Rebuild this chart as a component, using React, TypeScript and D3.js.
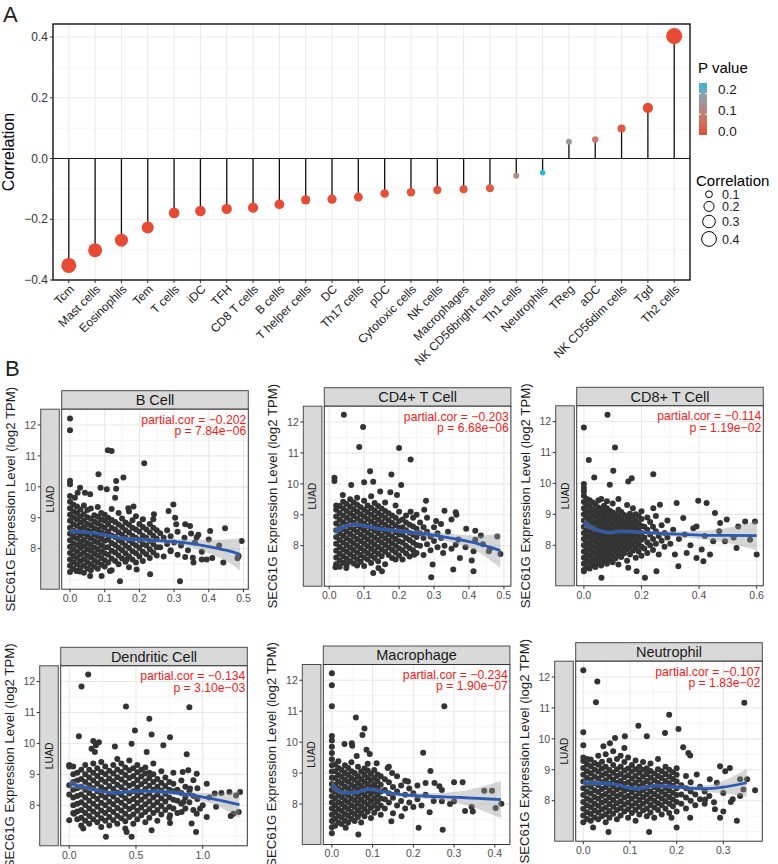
import React from 'react';
import * as d3 from 'd3';

const FONT = '"Liberation Sans", Arial, Helvetica, sans-serif';

// ---- Panel A: immune infiltration correlation (lollipop) ----
const cellTypes = [
  'Tcm', 'Mast cells', 'Eosinophils', 'Tem', 'T cells', 'iDC', 'TFH', 'CD8 T cells',
  'B cells', 'T helper cells', 'DC', 'Th17 cells', 'pDC', 'Cytotoxic cells', 'NK cells',
  'Macrophages', 'NK CD56bright cells', 'Th1 cells', 'Neutrophils', 'TReg', 'aDC',
  'NK CD56dim cells', 'Tgd', 'Th2 cells',
];
const correlations = [
  -0.352, -0.302, -0.269, -0.227, -0.179, -0.173, -0.166, -0.162,
  -0.151, -0.136, -0.134, -0.127, -0.115, -0.111, -0.104,
  -0.101, -0.098, -0.057, -0.047, 0.055, 0.063,
  0.099, 0.167, 0.403,
];
const pValues = [
  0, 0, 0, 0, 0, 0, 0, 0.001,
  0.001, 0.002, 0.003, 0.004, 0.008, 0.01, 0.015,
  0.018, 0.022, 0.13, 0.25, 0.165, 0.085,
  0.02, 0, 0,
];
const corTicks = [-0.4, -0.2, 0, 0.2, 0.4];
const corMinor = [-0.3, -0.1, 0.1, 0.3];
const pLegendTicks = [0, 0.1, 0.2];
const sizeLegendVals = [0.1, 0.2, 0.3, 0.4];

// ---- Panel B: scatter data, [x, [y...]] columns plus scattered points ----
const bCellCols: [number, number[]][] = [
  [0.0, [7.25, 7.45, 7.65, 7.86, 8.06, 8.27, 8.48, 8.68, 8.9, 9.1, 9.31, 9.52, 9.7]],
  [0.01, [7.35, 7.56, 7.76, 7.97, 8.17, 8.38, 8.58, 8.79, 9.0, 9.2, 9.42]],
  [0.02, [7.28, 7.5, 7.7, 7.9, 8.12, 8.33, 8.53, 8.74, 8.95, 9.15, 9.36]],
  [0.03, [7.4, 7.6, 7.81, 8.02, 8.22, 8.43, 8.64, 8.85, 9.05, 9.27]],
  [0.04, [7.22, 7.45, 7.66, 7.87, 8.08, 8.28, 8.49, 8.7, 8.9, 9.11, 9.4]],
  [0.05, [7.36, 7.57, 7.77, 7.98, 8.18, 8.39, 8.6, 8.8, 9.02, 9.25]],
  [0.06, [7.3, 7.5, 7.72, 7.93, 8.13, 8.34, 8.55, 8.76, 8.97, 9.3]],
  [0.07, [7.42, 7.63, 7.84, 8.04, 8.25, 8.46, 8.66, 8.87, 9.08]],
  [0.08, [7.35, 7.56, 7.78, 7.98, 8.2, 8.4, 8.61, 8.82, 9.03, 9.35]],
  [0.09, [7.48, 7.7, 7.9, 8.11, 8.32, 8.52, 8.73, 8.94, 9.15]],
  [0.1, [7.42, 7.63, 7.85, 8.05, 8.26, 8.47, 8.68, 8.9, 9.1]],
  [0.11, [7.55, 7.8, 8.05, 8.3, 8.55, 8.8, 9.0]],
  [0.12, [7.3, 7.68, 7.93, 8.18, 8.43, 8.68, 8.93, 9.28]],
  [0.13, [7.6, 7.88, 8.12, 8.38, 8.62, 8.86]],
  [0.14, [7.5, 7.78, 8.03, 8.28, 8.53, 8.78, 9.15]],
  [0.15, [7.68, 7.95, 8.2, 8.45, 8.7, 8.98]],
  [0.16, [7.58, 7.85, 8.1, 8.35, 8.6, 8.85]],
  [0.17, [7.4, 7.75, 8.02, 8.27, 8.52, 8.77, 9.2]],
  [0.18, [7.65, 7.92, 8.18, 8.42, 8.68, 8.92]],
  [0.19, [7.55, 7.85, 8.1, 8.35, 8.62, 9.05]],
  [0.2, [7.75, 8.02, 8.28, 8.55, 8.8]],
  [0.21, [7.6, 7.9, 8.15, 8.42, 8.7, 8.95]],
  [0.22, [7.82, 8.1, 8.35, 8.62]],
  [0.23, [7.7, 7.98, 8.25, 8.52, 8.8]],
  [0.24, [7.88, 8.15, 8.42, 8.68]],
  [0.25, [7.78, 8.05, 8.32, 8.6]],
  [0.26, [8.05, 8.5]],
  [0.27, [7.75, 8.35]],
  [0.28, [8.15, 8.6]],
  [0.29, [7.95, 8.4]],
  [0.3, [8.2]],
  [0.31, [7.8, 8.55]],
  [0.32, [8.1]],
  [0.33, [8.35]],
  [0.34, [7.95]],
  [0.36, [8.2]],
  [0.37, [8.45]],
  [0.38, [7.9]],
  [0.4, [8.3]],
  [0.41, [7.7]],
  [0.43, [8.1]],
];
const bCellOut: [number, number][] = [
  [0, 12.21], [0, 11.83], [0.109, 11.18], [0.12, 11.16], [0.214, 10.76], [0.082, 10.41],
  [0.154, 10.3], [0.133, 10.19], [0, 10.2], [0, 10.08], [0.029, 9.97], [0.022, 9.81],
  [0.088, 9.97], [0.106, 9.92], [0.133, 9.94], [0.043, 9.81], [0.058, 9.76], [0.014, 9.65],
  [0.13, 9.65], [0.298, 9.43], [0.183, 9.36], [0.168, 9.31], [0.242, 9.11], [0.24, 8.95],
  [0.284, 9.22], [0.303, 9.0], [0.306, 8.79], [0.332, 8.79], [0.346, 8.73], [0.349, 8.49],
  [0.365, 8.36], [0.404, 8.57], [0.447, 8.66], [0.495, 8.25], [0.486, 7.76], [0.483, 7.69],
  [0.442, 7.55], [0.394, 7.65], [0.38, 7.65], [0.356, 7.55], [0.354, 7.71], [0.332, 7.73],
  [0.29, 7.92], [0.231, 7.17], [0.317, 6.95], [0.144, 6.95], [0.192, 7.33], [0.163, 7.65],
  [0.115, 7.28], [0.058, 7.12], [0.091, 7.12], [0.029, 7.26], [0.019, 7.28],
];
// smooth: [x, fit, half-width of band]
const bCellSmooth: [number, number, number][] = [
  [0, 8.57, 0.08], [0.05, 8.53, 0.05], [0.1, 8.45, 0.06], [0.16, 8.32, 0.07], [0.2, 8.29, 0.07],
  [0.26, 8.25, 0.08], [0.3, 8.23, 0.09], [0.34, 8.18, 0.12], [0.4, 8.07, 0.22], [0.45, 7.95, 0.35],
  [0.49, 7.82, 0.52],
];

const cd4Cols: [number, number[]][] = [
  [0.02, [7.4, 7.62, 7.84, 8.06, 8.28, 8.5, 8.72, 8.94, 9.16, 9.3]],
  [0.03, [7.32, 7.52, 7.74, 7.96, 8.18, 8.4, 8.62, 8.84, 9.06, 9.28]],
  [0.04, [7.45, 7.66, 7.88, 8.1, 8.32, 8.54, 8.76, 8.98, 9.2, 9.42]],
  [0.05, [7.38, 7.58, 7.8, 8.02, 8.24, 8.46, 8.68, 8.9, 9.12, 9.35]],
  [0.06, [7.5, 7.72, 7.94, 8.16, 8.38, 8.6, 8.82, 9.04, 9.26, 9.5]],
  [0.07, [7.42, 7.64, 7.86, 8.08, 8.3, 8.52, 8.74, 8.96, 9.18, 9.4]],
  [0.08, [7.36, 7.56, 7.78, 8.0, 8.22, 8.44, 8.66, 8.88, 9.1, 9.32, 9.55]],
  [0.09, [7.48, 7.7, 7.92, 8.14, 8.36, 8.58, 8.8, 9.02, 9.24]],
  [0.1, [7.34, 7.62, 7.84, 8.06, 8.28, 8.5, 8.72, 8.94, 9.16, 9.45]],
  [0.11, [7.55, 7.76, 7.98, 8.2, 8.42, 8.64, 8.86, 9.08, 9.3]],
  [0.12, [7.44, 7.68, 7.9, 8.12, 8.34, 8.56, 8.78, 9.0, 9.22, 9.6]],
  [0.13, [7.6, 7.82, 8.04, 8.26, 8.48, 8.7, 8.92, 9.14, 9.38]],
  [0.14, [7.5, 7.74, 7.96, 8.18, 8.4, 8.62, 8.84, 9.06, 9.28]],
  [0.15, [7.66, 7.88, 8.1, 8.32, 8.54, 8.76, 8.98, 9.2]],
  [0.16, [7.4, 7.8, 8.02, 8.24, 8.46, 8.68, 8.9, 9.12, 9.4]],
  [0.17, [7.7, 7.94, 8.16, 8.38, 8.6, 8.82, 9.05]],
  [0.18, [7.6, 7.86, 8.08, 8.3, 8.52, 8.74, 8.98]],
  [0.19, [7.78, 8.0, 8.22, 8.44, 8.66, 8.9, 9.3]],
  [0.2, [7.68, 7.92, 8.14, 8.36, 8.58, 8.8, 9.1]],
  [0.21, [7.55, 7.85, 8.1, 8.35, 8.6, 8.85]],
  [0.22, [7.75, 8.0, 8.25, 8.5, 8.75, 8.98]],
  [0.23, [7.65, 7.92, 8.18, 8.42, 8.68]],
  [0.24, [7.85, 8.1, 8.35, 8.62, 8.9]],
  [0.25, [7.76, 8.02, 8.28, 8.55, 9.0]],
  [0.26, [8.0, 8.4, 8.75]],
  [0.27, [7.7, 8.25, 8.6]],
  [0.28, [8.05, 8.45, 8.9]],
  [0.29, [7.85, 8.3]],
  [0.3, [8.15, 8.6]],
  [0.31, [7.95, 8.4]],
  [0.32, [8.25, 8.7]],
  [0.33, [8.0]],
  [0.34, [8.45]],
  [0.35, [7.9, 8.85]],
  [0.37, [8.2]],
  [0.39, [7.95]],
  [0.44, [8.05]],
  [0.46, [7.9]],
];
const cd4Out: [number, number][] = [
  [0.042, 12.23], [0.097, 11.84], [0.086, 11.19], [0.2, 11.16], [0.233, 10.79], [0.117, 10.41],
  [0.178, 10.3], [0.015, 10.2], [0.015, 10.09], [0.126, 10.07], [0.1, 10.05], [0.206, 9.96],
  [0.063, 9.96], [0.039, 9.64], [0.175, 9.73], [0.194, 9.64], [0.146, 9.75], [0.277, 9.45],
  [0.233, 9.1], [0.272, 9.16], [0.33, 9.13], [0.362, 9.08], [0.364, 9.0], [0.306, 8.8],
  [0.392, 8.55], [0.418, 8.48], [0.434, 8.33], [0.418, 8.19], [0.481, 8.3], [0.49, 7.73],
  [0.457, 7.82], [0.413, 7.82], [0.408, 7.52], [0.413, 7.17], [0.362, 8.03], [0.374, 7.6],
  [0.326, 7.76], [0.355, 7.23], [0.292, 6.98], [0.296, 7.39], [0.243, 7.71], [0.19, 7.55],
  [0.151, 7.17], [0.126, 7.12], [0.141, 7.28], [0.049, 7.28], [0.018, 7.3],
];
const cd4Smooth: [number, number, number][] = [
  [0.015, 8.44, 0.15], [0.04, 8.6, 0.08], [0.07, 8.68, 0.07], [0.1, 8.65, 0.06], [0.13, 8.57, 0.06],
  [0.17, 8.51, 0.06], [0.22, 8.45, 0.07], [0.27, 8.39, 0.09], [0.32, 8.3, 0.12], [0.37, 8.2, 0.16],
  [0.42, 8.08, 0.24], [0.49, 7.84, 0.56],
];

const cd8Cols: [number, number[]][] = [
  [0.0, [7.2, 7.4, 7.6, 7.8, 8.0, 8.2, 8.4, 8.6, 8.8, 9.0, 9.2, 9.4, 9.6, 9.75]],
  [0.01, [7.3, 7.5, 7.7, 7.9, 8.1, 8.3, 8.5, 8.7, 8.9, 9.1, 9.3, 9.5]],
  [0.02, [7.25, 7.46, 7.66, 7.86, 8.06, 8.26, 8.46, 8.66, 8.86, 9.06, 9.26, 9.46]],
  [0.03, [7.36, 7.56, 7.76, 7.96, 8.16, 8.36, 8.56, 8.76, 8.96, 9.16, 9.38]],
  [0.04, [7.3, 7.52, 7.72, 7.92, 8.12, 8.32, 8.52, 8.72, 8.92, 9.12, 9.32]],
  [0.05, [7.42, 7.62, 7.82, 8.02, 8.22, 8.42, 8.62, 8.82, 9.02, 9.22, 9.45]],
  [0.06, [7.35, 7.56, 7.76, 7.96, 8.16, 8.36, 8.56, 8.76, 8.96, 9.16, 9.5]],
  [0.07, [7.48, 7.68, 7.88, 8.08, 8.28, 8.48, 8.68, 8.88, 9.08, 9.28]],
  [0.08, [7.4, 7.6, 7.8, 8.0, 8.2, 8.4, 8.6, 8.8, 9.0, 9.2, 9.42]],
  [0.09, [7.52, 7.72, 7.92, 8.12, 8.32, 8.52, 8.72, 8.92, 9.12]],
  [0.1, [7.45, 7.66, 7.86, 8.06, 8.26, 8.46, 8.66, 8.86, 9.06, 9.35]],
  [0.11, [7.58, 7.8, 8.0, 8.2, 8.4, 8.6, 8.8, 9.0]],
  [0.12, [7.38, 7.7, 7.92, 8.12, 8.32, 8.52, 8.72, 8.92, 9.15, 9.5]],
  [0.13, [7.62, 7.84, 8.04, 8.24, 8.44, 8.64, 8.86, 9.08]],
  [0.14, [7.74, 7.96, 8.16, 8.36, 8.56, 8.76, 8.98]],
  [0.15, [7.5, 7.86, 8.08, 8.28, 8.48, 8.68, 8.9, 9.3]],
  [0.16, [7.7, 7.98, 8.2, 8.4, 8.6, 8.82, 9.02]],
  [0.17, [7.82, 8.06, 8.28, 8.5, 8.72, 8.94, 9.2]],
  [0.18, [7.6, 7.92, 8.14, 8.36, 8.58, 8.8, 9.0]],
  [0.19, [7.8, 8.04, 8.26, 8.48, 8.7, 8.95]],
  [0.2, [7.66, 7.95, 8.18, 8.4, 8.62, 8.85, 9.1]],
  [0.21, [7.9, 8.25, 8.6]],
  [0.22, [7.75, 8.1, 8.5, 8.9]],
  [0.23, [8.0, 8.35, 8.75]],
  [0.24, [7.85, 8.2, 8.6]],
  [0.25, [8.05, 8.45, 8.95]],
  [0.26, [7.7, 8.3]],
  [0.27, [8.15, 8.65]],
  [0.28, [7.95, 8.4]],
  [0.29, [8.25, 8.8]],
  [0.3, [8.05]],
  [0.31, [8.5]],
  [0.33, [8.2]],
  [0.35, [8.35]],
  [0.37, [8.0]],
  [0.38, [8.55]],
  [0.42, [8.3]],
  [0.47, [8.45]],
  [0.52, [8.25]],
];
const cd8Out: [number, number][] = [
  [0, 11.81], [0.082, 12.22], [0.108, 11.16], [0.017, 10.76], [0.102, 10.41], [0.036, 10.19],
  [0.241, 10.3], [0.166, 10.17], [0.154, 10.06], [0.09, 9.96], [0, 9.98], [0, 9.85],
  [0.397, 9.44], [0.426, 9.37], [0.322, 9.37], [0.264, 9.31], [0.241, 9.2], [0.455, 9.04],
  [0.496, 8.83], [0.345, 8.88], [0.391, 8.61], [0.473, 8.72], [0.56, 8.77], [0.536, 8.61],
  [0.594, 8.77], [0.577, 8.18], [0.53, 7.91], [0.6, 7.7], [0.49, 8.13], [0.449, 8.13],
  [0.409, 7.86], [0.438, 7.7], [0.391, 7.59], [0.415, 7.48], [0.357, 7.75], [0.316, 7.7],
  [0.328, 7.32], [0.252, 7.16], [0.212, 6.95], [0.154, 7.27], [0.183, 7.16], [0.061, 6.95],
  [0, 7.16],
];
const cd8Smooth: [number, number, number][] = [
  [0, 8.72, 0.15], [0.03, 8.56, 0.08], [0.06, 8.46, 0.06], [0.09, 8.41, 0.06], [0.125, 8.45, 0.06],
  [0.2, 8.42, 0.06], [0.3, 8.37, 0.08], [0.4, 8.33, 0.13], [0.5, 8.32, 0.25], [0.6, 8.31, 0.48],
];

const dcCols: [number, number[]][] = [
  [0.0, [8.35, 8.65, 9.25]],
  [0.03, [7.75, 8.0, 8.25, 8.5, 8.75, 9.0, 9.25]],
  [0.06, [7.55, 7.8, 8.05, 8.3, 8.55, 8.8, 9.05]],
  [0.09, [7.35, 7.6, 7.85, 8.1, 8.35, 8.6, 8.85, 9.15]],
  [0.12, [7.5, 7.75, 8.0, 8.25, 8.5, 8.75, 9.0, 9.3]],
  [0.15, [7.4, 7.65, 7.9, 8.15, 8.4, 8.65, 8.9, 9.15]],
  [0.18, [7.55, 7.8, 8.05, 8.3, 8.55, 8.8, 9.05, 9.35]],
  [0.21, [7.45, 7.7, 7.95, 8.2, 8.45, 8.7, 8.95, 9.2]],
  [0.24, [7.3, 7.58, 7.83, 8.08, 8.33, 8.58, 8.83, 9.08, 9.4]],
  [0.27, [7.5, 7.75, 8.0, 8.25, 8.5, 8.75, 9.0, 9.25]],
  [0.3, [7.35, 7.62, 7.87, 8.12, 8.37, 8.62, 8.87, 9.12]],
  [0.33, [7.52, 7.78, 8.03, 8.28, 8.53, 8.78, 9.03, 9.3]],
  [0.36, [7.4, 7.66, 7.91, 8.16, 8.41, 8.66, 8.91, 9.16, 9.5]],
  [0.39, [7.58, 7.83, 8.08, 8.33, 8.58, 8.83, 9.08, 9.35]],
  [0.42, [7.25, 7.48, 7.73, 7.98, 8.23, 8.48, 8.73, 8.98, 9.22]],
  [0.45, [7.62, 7.88, 8.13, 8.38, 8.63, 8.88, 9.13, 9.45]],
  [0.48, [7.4, 7.7, 7.95, 8.2, 8.45, 8.7, 8.95, 9.2]],
  [0.51, [7.55, 7.82, 8.07, 8.32, 8.57, 8.82, 9.07, 9.3]],
  [0.54, [7.68, 7.93, 8.18, 8.43, 8.68, 8.93, 9.15]],
  [0.57, [7.45, 7.78, 8.03, 8.28, 8.53, 8.78, 9.03, 9.22]],
  [0.6, [7.6, 7.88, 8.13, 8.38, 8.63, 8.88, 9.05]],
  [0.63, [7.75, 8.0, 8.25, 8.5, 8.75, 9.0, 9.35]],
  [0.66, [7.5, 7.85, 8.1, 8.35, 8.6, 8.85]],
  [0.69, [7.7, 7.98, 8.23, 8.48, 8.73, 9.1]],
  [0.72, [7.85, 8.12, 8.37, 8.62, 8.9]],
  [0.75, [7.6, 7.95, 8.25, 8.5, 8.75]],
  [0.78, [7.9, 8.18, 8.45, 8.7, 9.05]],
  [0.81, [7.75, 8.15, 8.5]],
  [0.84, [8.05, 8.4, 8.8]],
  [0.87, [7.9, 8.25, 8.6]],
  [0.9, [8.1, 8.45]],
  [0.93, [7.85, 8.3]],
  [0.96, [8.2, 8.55]],
  [1.0, [8.0]],
  [1.05, [8.25]],
  [1.1, [7.95]],
];
const dcOut: [number, number][] = [
  [0.142, 12.23], [0.092, 11.84], [0.425, 11.19], [0.9, 11.17], [0.6, 10.8], [0.492, 10.42],
  [0.617, 10.29], [0.072, 10.23], [0.755, 10.2], [0.18, 10.08], [0.222, 10.04], [0.2, 9.94],
  [0.467, 9.99], [0.705, 9.94], [0.342, 9.9], [0.58, 9.72], [0.167, 9.83], [0.192, 9.72],
  [0.88, 9.65], [0.892, 9.13], [0.955, 9.02], [0.85, 9.08], [0.93, 8.81], [1.03, 8.7],
  [0.905, 8.54], [1.09, 8.38], [1.14, 8.4], [1.2, 8.43], [1.28, 8.43], [1.25, 8.32],
  [0.98, 7.89], [1.03, 7.62], [0.955, 7.73], [1.23, 7.73], [1.27, 7.78], [1.21, 7.65],
  [0.855, 8.11], [0.842, 7.78], [0.917, 7.41], [0.95, 7.14], [0.755, 7.68], [0.617, 7.19],
  [0.755, 7.43], [0.467, 6.98], [0.43, 7.14], [0.275, 6.98], [0, 7.52], [0.035, 7.73],
  [0.105, 7.25], [0, 9.3],
];
const dcSmooth: [number, number, number][] = [
  [0, 8.7, 0.14], [0.15, 8.55, 0.08], [0.33, 8.4, 0.06], [0.45, 8.44, 0.06], [0.56, 8.46, 0.06],
  [0.73, 8.43, 0.07], [0.93, 8.32, 0.1], [1.13, 8.16, 0.22], [1.275, 8.02, 0.45],
];

const macCols: [number, number[]][] = [
  [0.0, [7.05, 7.25, 7.45, 7.65, 7.85, 8.05, 8.25, 8.45, 8.65, 8.85, 9.05, 9.25, 9.45, 9.65, 9.85, 10.05]],
  [0.008, [7.3, 7.52, 7.74, 7.96, 8.18, 8.4, 8.62, 8.84, 9.06, 9.28]],
  [0.016, [7.4, 7.62, 7.84, 8.06, 8.28, 8.5, 8.72, 8.94, 9.16, 9.38]],
  [0.024, [7.35, 7.56, 7.78, 8.0, 8.22, 8.44, 8.66, 8.88, 9.1]],
  [0.032, [7.46, 7.68, 7.9, 8.12, 8.34, 8.56, 8.78, 9.0, 9.25]],
  [0.04, [7.4, 7.62, 7.84, 8.06, 8.28, 8.5, 8.72, 8.94, 9.16]],
  [0.048, [7.52, 7.74, 7.96, 8.18, 8.4, 8.62, 8.84, 9.06, 9.35]],
  [0.056, [7.45, 7.68, 7.9, 8.12, 8.34, 8.56, 8.78, 9.0]],
  [0.064, [7.58, 7.8, 8.02, 8.24, 8.46, 8.68, 8.9, 9.2]],
  [0.072, [7.4, 7.7, 7.92, 8.14, 8.36, 8.58, 8.8, 9.05]],
  [0.08, [7.6, 7.84, 8.06, 8.28, 8.5, 8.72, 8.94, 9.15]],
  [0.088, [7.75, 7.98, 8.2, 8.42, 8.64, 8.86, 9.08, 9.3]],
  [0.096, [7.55, 7.88, 8.1, 8.32, 8.54, 8.76, 8.98]],
  [0.104, [7.72, 7.96, 8.18, 8.4, 8.62, 8.84, 9.1]],
  [0.112, [7.85, 8.08, 8.3, 8.52, 8.74, 8.95]],
  [0.12, [7.65, 7.95, 8.18, 8.4, 8.62, 8.9]],
  [0.13, [7.85, 8.15, 8.45, 8.8]],
  [0.14, [8.05, 8.35, 8.7, 9.2]],
  [0.15, [7.7, 8.2, 8.55]],
  [0.16, [7.95, 8.4, 8.9]],
  [0.17, [8.1, 8.6]],
  [0.18, [7.85, 8.3, 8.75]],
  [0.19, [8.05, 8.5]],
  [0.2, [7.9, 8.35]],
  [0.21, [8.15, 8.6]],
  [0.22, [7.95]],
  [0.23, [8.3]],
  [0.25, [8.1]],
  [0.27, [8.45]],
  [0.29, [8.0]],
];
const macOut: [number, number][] = [
  [0, 12.23], [0, 11.84], [0, 11.16], [0.276, 11.16], [0.059, 10.8], [0.08, 10.44],
  [0.075, 10.23], [0, 10.2], [0.031, 9.94], [0.049, 9.96], [0.05, 9.88], [0.061, 9.55],
  [0.085, 9.75], [0.093, 9.62], [0.224, 9.66], [0.11, 9.32], [0.137, 9.16], [0.242, 9.07],
  [0.148, 9.0], [0.187, 8.73], [0.23, 8.68], [0.252, 8.68], [0.264, 8.57], [0.3, 8.7],
  [0.321, 8.7], [0.374, 8.43], [0.393, 8.43], [0.416, 8.01], [0.402, 7.87], [0.343, 7.9],
  [0.346, 7.76], [0.327, 7.77], [0.3, 8.09], [0.27, 8.09], [0.24, 7.73], [0.213, 7.23],
  [0.272, 7.17], [0.171, 7.6], [0.146, 7.44], [0.065, 7.01], [0.034, 7.23],
];
const macSmooth: [number, number, number][] = [
  [0, 8.62, 0.15], [0.028, 8.37, 0.07], [0.057, 8.37, 0.06], [0.09, 8.48, 0.06], [0.122, 8.41, 0.06],
  [0.17, 8.3, 0.07], [0.236, 8.25, 0.1], [0.317, 8.21, 0.2], [0.36, 8.18, 0.35], [0.415, 8.14, 0.6],
];

const neuCols: [number, number[]][] = [
  [0.0, [7.3, 7.52, 7.74, 7.96, 8.18, 8.4, 8.62, 8.84, 9.06, 9.28, 9.4]],
  [0.008, [7.41, 7.63, 7.85, 8.07, 8.29, 8.51, 8.73, 8.95, 9.17, 9.35]],
  [0.016, [7.35, 7.57, 7.79, 8.01, 8.23, 8.45, 8.67, 8.89, 9.11, 9.33]],
  [0.024, [7.46, 7.68, 7.9, 8.12, 8.34, 8.56, 8.78, 9.0, 9.22]],
  [0.032, [7.4, 7.62, 7.84, 8.06, 8.28, 8.5, 8.72, 8.94, 9.16, 9.45]],
  [0.04, [7.5, 7.72, 7.94, 8.16, 8.38, 8.6, 8.82, 9.04, 9.26]],
  [0.048, [7.3, 7.56, 7.78, 8.0, 8.22, 8.44, 8.66, 8.88, 9.1, 9.5]],
  [0.056, [7.45, 7.67, 7.89, 8.11, 8.33, 8.55, 8.77, 8.99, 9.3]],
  [0.064, [7.58, 7.8, 8.02, 8.24, 8.46, 8.68, 8.9, 9.15, 9.6]],
  [0.072, [7.4, 7.7, 7.92, 8.14, 8.36, 8.58, 8.8, 9.02, 9.35]],
  [0.08, [7.52, 7.76, 7.98, 8.2, 8.42, 8.64, 8.86, 9.1, 9.45]],
  [0.088, [7.65, 7.88, 8.1, 8.32, 8.54, 8.76, 8.98, 9.25, 9.7]],
  [0.096, [7.45, 7.72, 7.94, 8.16, 8.38, 8.6, 8.82, 9.04, 9.4]],
  [0.104, [7.6, 7.84, 8.06, 8.28, 8.5, 8.72, 8.94, 9.15]],
  [0.112, [7.35, 7.7, 7.92, 8.14, 8.36, 8.58, 8.8, 9.02, 9.3]],
  [0.12, [7.55, 7.8, 8.02, 8.24, 8.46, 8.68, 8.9, 9.1]],
  [0.128, [7.68, 7.9, 8.12, 8.34, 8.56, 8.78, 9.0, 9.25]],
  [0.136, [7.5, 7.75, 7.98, 8.2, 8.42, 8.64, 8.86, 9.05]],
  [0.144, [7.62, 7.86, 8.08, 8.3, 8.52, 8.74, 8.96, 9.2]],
  [0.152, [7.45, 7.78, 8.0, 8.22, 8.44, 8.66, 8.88]],
  [0.16, [7.7, 7.92, 8.14, 8.36, 8.58, 8.8, 9.02, 9.35]],
  [0.168, [7.55, 7.85, 8.07, 8.29, 8.51, 8.73, 8.95]],
  [0.176, [7.74, 7.98, 8.2, 8.42, 8.64, 8.86, 9.1]],
  [0.184, [7.6, 7.9, 8.12, 8.34, 8.56, 8.78, 9.0]],
  [0.192, [7.82, 8.04, 8.26, 8.48, 8.7, 8.92]],
  [0.2, [7.65, 7.96, 8.18, 8.4, 8.62, 8.84, 9.05]],
  [0.21, [7.9, 8.2, 8.5]],
  [0.22, [7.75, 8.1, 8.4, 8.8]],
  [0.23, [8.0, 8.3, 8.6]],
  [0.24, [7.85, 8.2]],
  [0.25, [8.05, 8.45]],
  [0.26, [7.9, 8.3]],
  [0.27, [8.15]],
  [0.28, [7.95]],
  [0.3, [8.25]],
  [0.32, [8.05]],
];
const neuOut: [number, number][] = [
  [0, 12.22], [0.03, 11.85], [0.027, 11.18], [0.345, 11.17], [0.184, 10.78], [0.118, 10.42],
  [0.204, 10.32], [0, 10.21], [0.175, 10.19], [0.136, 10.08], [0, 9.79], [0.089, 10.08],
  [0.068, 10.03], [0.043, 9.76], [0.057, 9.86], [0.214, 9.73], [0.225, 9.54], [0.229, 9.46],
  [0.293, 9.11], [0.314, 9.06], [0.304, 8.95], [0.243, 8.85], [0.271, 8.69], [0.286, 8.58],
  [0.336, 8.69], [0.351, 8.69], [0.343, 8.36], [0.368, 8.34], [0.336, 8.15], [0.316, 7.96],
  [0.3, 7.65], [0.282, 7.72], [0.329, 7.35], [0.293, 7.45], [0.229, 7.45], [0.261, 8.04],
  [0.2, 7.13], [0.189, 7.45], [0.141, 6.99], [0.054, 6.99], [0.021, 7.13],
];
const neuSmooth: [number, number, number][] = [
  [0, 8.58, 0.1], [0.057, 8.55, 0.06], [0.114, 8.39, 0.06], [0.157, 8.49, 0.06], [0.2, 8.44, 0.07],
  [0.257, 8.39, 0.1], [0.3, 8.44, 0.2], [0.35, 8.58, 0.45],
];

type PanelSpec = {
  title: string; cor: string; p: string; left: number; top: number;
  xDomain: [number, number]; xTicks: number[]; xMinor: number[];
  cols: [number, number[]][]; out: [number, number][]; smooth: [number, number, number][];
};

const PANELS: PanelSpec[] = [
  { title: 'B Cell', cor: '\u22120.202', p: '7.84e\u221206', left: 61.7, top: 390.7,
    xDomain: [-0.024, 0.514], xTicks: [0, 0.1, 0.2, 0.3, 0.4, 0.5], xMinor: [0.05, 0.15, 0.25, 0.35, 0.45],
    cols: bCellCols, out: bCellOut, smooth: bCellSmooth },
  { title: 'CD4+ T Cell', cor: '\u22120.203', p: '6.68e\u221206', left: 324.3, top: 387.7,
    xDomain: [-0.014, 0.52], xTicks: [0, 0.1, 0.2, 0.3, 0.4, 0.5], xMinor: [0.05, 0.15, 0.25, 0.35, 0.45],
    cols: cd4Cols, out: cd4Out, smooth: cd4Smooth },
  { title: 'CD8+ T Cell', cor: '\u22120.114', p: '1.19e\u221202', left: 576.7, top: 387.3,
    xDomain: [-0.025, 0.623], xTicks: [0, 0.2, 0.4, 0.6], xMinor: [0.1, 0.3, 0.5],
    cols: cd8Cols, out: cd8Out, smooth: cd8Smooth },
  { title: 'Dendritic Cell', cor: '\u22120.134', p: '3.10e\u221203', left: 60.7, top: 647.3,
    xDomain: [-0.064, 1.334], xTicks: [0, 0.5, 1.0], xMinor: [0.25, 0.75, 1.25],
    cols: dcCols, out: dcOut, smooth: dcSmooth },
  { title: 'Macrophage', cor: '\u22120.234', p: '1.90e\u221207', left: 323.3, top: 646,
    xDomain: [-0.021, 0.437], xTicks: [0, 0.1, 0.2, 0.3, 0.4], xMinor: [0.05, 0.15, 0.25, 0.35],
    cols: macCols, out: macOut, smooth: macSmooth },
  { title: 'Neutrophil', cor: '\u22120.107', p: '1.83e\u221202', left: 575.7, top: 642.7,
    xDomain: [-0.0163, 0.3835], xTicks: [0, 0.1, 0.2, 0.3], xMinor: [0.05, 0.15, 0.25, 0.35],
    cols: neuCols, out: neuOut, smooth: neuSmooth },
];

const exprMajor = [8, 9, 10, 11, 12];
const exprMinor = [7, 7.5, 8.5, 9.5, 10.5, 11.5];

function LollipopPanel() {
  const left = 53, right = 690, top = 24, bottom = 280;
  const x = d3.scalePoint<string>().domain(cellTypes).range([left, right]).padding(0.6);
  const y = d3.scaleLinear().domain([-0.4, 0.443]).range([bottom, top]);
  const color = d3.scaleLinear<string>().domain([0, 0.25]).range(['#E64B35', '#36B4D8'])
    .interpolate(d3.interpolateLab);
  const size = d3.scaleSqrt().domain([0, 0.4]).range([0, 8]);

  // colorbar geometry
  const cbX = 699, cbW = 8, cbTop = 83, cbBottom = 135;
  const cbY = d3.scaleLinear().domain([0, 0.25]).range([cbBottom, cbTop]);

  // size legend key centres
  let acc = 189;
  const keyY = sizeLegendVals.map(v => {
    const h = 2 * size(v) + 2.5;
    const c = acc + h / 2;
    acc += h;
    return c;
  });

  return (
    <g>
      <text x={3} y={22} fontSize={22} fill="#231F20">A</text>
      <rect x={left} y={top} width={right - left} height={bottom - top} fill="#fff" />
      {corMinor.map(v => (
        <line key={'mi' + v} x1={left} x2={right} y1={y(v)} y2={y(v)} stroke="#F2F2F2" strokeWidth={0.7} />
      ))}
      {corTicks.map(v => (
        <line key={'ma' + v} x1={left} x2={right} y1={y(v)} y2={y(v)} stroke="#EBEBEB" strokeWidth={1.1} />
      ))}
      {cellTypes.map(c => (
        <line key={'v' + c} x1={x(c)} x2={x(c)} y1={top} y2={bottom} stroke="#EBEBEB" strokeWidth={1.1} />
      ))}
      <line x1={left} x2={right} y1={y(0)} y2={y(0)} stroke="#1a1a1a" strokeWidth={1.1} />
      {cellTypes.map((c, i) => (
        <line key={'s' + c} x1={x(c)} x2={x(c)} y1={y(0)} y2={y(correlations[i])} stroke="#111" strokeWidth={1.3} />
      ))}
      {cellTypes.map((c, i) => (
        <circle key={'p' + c} cx={x(c)} cy={y(correlations[i])} r={size(Math.abs(correlations[i]))}
          fill={color(pValues[i])} />
      ))}
      <rect x={left} y={top} width={right - left} height={bottom - top} fill="none" stroke="#000" strokeWidth={1.3} />
      {/* y axis */}
      {corTicks.map(v => (
        <g key={'yt' + v}>
          <line x1={left - 3} x2={left} y1={y(v)} y2={y(v)} stroke="#333" strokeWidth={1} />
          <text x={left - 5} y={y(v) + 4} fontSize={12} textAnchor="end" fill="#333">
            {v === 0 ? '0.0' : d3.format('.1f')(v).replace('-', '\u2212')}
          </text>
        </g>
      ))}
      <text transform={`translate(${14},${(top + bottom) / 2}) rotate(-90)`} fontSize={16}
        textAnchor="middle" fill="#000">Correlation</text>
      {/* x axis */}
      {cellTypes.map(c => (
        <g key={'xt' + c}>
          <line x1={x(c)} x2={x(c)} y1={bottom} y2={bottom + 3} stroke="#333" strokeWidth={1} />
          <text transform={`translate(${x(c)! + 3},${bottom + 7}) rotate(-45)`} fontSize={12}
            textAnchor="end" dy="0.35em" fill="#1a1a1a">{c}</text>
        </g>
      ))}
      {/* P value legend */}
      <defs>
        <linearGradient id="pgrad" x1="0" x2="0" y1="1" y2="0">
          {d3.range(0, 1.0001, 0.1).map(t => (
            <stop key={t} offset={t} stopColor={color(t * 0.25)} />
          ))}
        </linearGradient>
      </defs>
      <text x={698} y={73} fontSize={15} fill="#000">P value</text>
      <rect x={cbX} y={cbTop} width={cbW} height={cbBottom - cbTop} fill="url(#pgrad)" />
      {pLegendTicks.map(v => (
        <g key={'cb' + v}>
          {v > 0 && <line x1={cbX} x2={cbX + 2} y1={cbY(v)} y2={cbY(v)} stroke="#fff" strokeWidth={1} />}
          {v > 0 && <line x1={cbX + cbW - 2} x2={cbX + cbW} y1={cbY(v)} y2={cbY(v)} stroke="#fff" strokeWidth={1} />}
          <text x={718} y={cbY(v) + 1} fontSize={13.5} fill="#1a1a1a">{d3.format('.1f')(v)}</text>
        </g>
      ))}
      {/* size legend */}
      <text x={696} y={186} fontSize={15} fill="#000">Correlation</text>
      {sizeLegendVals.map((v, i) => (
        <g key={'sz' + v}>
          <circle cx={709} cy={keyY[i]} r={size(v) - 0.6} fill="none" stroke="#000" strokeWidth={1} />
          <text x={722} y={keyY[i] + 5} fontSize={12.5} fill="#1a1a1a">{v.toFixed(1)}</text>
        </g>
      ))}
    </g>
  );
}

function ScatterPanel({ spec }: { spec: PanelSpec }) {
  const W = 186.6, SH = 18.5, H = 180;
  const left = spec.left, right = left + W;
  const pTop = spec.top + SH, pBottom = pTop + H;
  const x = d3.scaleLinear().domain(spec.xDomain).range([left, right]);
  const y = d3.scaleLinear().domain([6.69, 12.51]).range([pBottom, pTop]);
  const pts: [number, number][] = [];
  spec.cols.forEach(([cx, ys]) => ys.forEach(v => pts.push([cx, v])));
  spec.out.forEach(d => pts.push(d));
  const area = d3.area<[number, number, number]>()
    .x(d => x(d[0])).y0(d => y(d[1] - d[2])).y1(d => y(d[1] + d[2]))
    .curve(d3.curveMonotoneX);
  const line = d3.line<[number, number, number]>()
    .x(d => x(d[0])).y(d => y(d[1])).curve(d3.curveMonotoneX);
  const stripLeft = left - 21;
  const fmt = d3.format('.1f');

  return (
    <g>
      {/* y title */}
      <text transform={`translate(${left - 47},${(pTop + pBottom) / 2}) rotate(-90)`} fontSize={13.2}
        textAnchor="middle" fill="#1a1a1a">SEC61G Expression Level (log2 TPM)</text>
      {/* strips */}
      <rect x={left} y={spec.top} width={W} height={SH} fill="#D9D9D9" stroke="#4D4D4D" strokeWidth={1} />
      <text x={left + W / 2} y={spec.top + SH / 2 + 5} fontSize={14.5} textAnchor="middle" fill="#1a1a1a">
        {spec.title}
      </text>
      <rect x={stripLeft} y={pTop} width={18.6} height={H} fill="#D9D9D9" stroke="#4D4D4D" strokeWidth={1} />
      <text transform={`translate(${stripLeft + 9.3 + 3.5},${(pTop + pBottom) / 2}) rotate(-90)`} fontSize={10}
        textAnchor="middle" fill="#1a1a1a">LUAD</text>
      {/* panel */}
      <rect x={left} y={pTop} width={W} height={H} fill="#fff" />
      {exprMinor.map(v => (
        <line key={'ym' + v} x1={left} x2={right} y1={y(v)} y2={y(v)} stroke="#F0F0F0" strokeWidth={0.7} />
      ))}
      {spec.xMinor.map(v => (
        <line key={'xm' + v} x1={x(v)} x2={x(v)} y1={pTop} y2={pBottom} stroke="#F0F0F0" strokeWidth={0.7} />
      ))}
      {exprMajor.map(v => (
        <line key={'yM' + v} x1={left} x2={right} y1={y(v)} y2={y(v)} stroke="#E8E8E8" strokeWidth={1.1} />
      ))}
      {spec.xTicks.map(v => (
        <line key={'xM' + v} x1={x(v)} x2={x(v)} y1={pTop} y2={pBottom} stroke="#E8E8E8" strokeWidth={1.1} />
      ))}
      {pts.map((d, i) => (
        <circle key={i} cx={x(d[0])} cy={y(d[1])} r={3.0} fill="#333333" />
      ))}
      <path d={area(spec.smooth) || ''} fill="#999999" opacity={0.4} />
      <path d={line(spec.smooth) || ''} fill="none" stroke="#2C5BB5" strokeWidth={2.8} />
      <rect x={left} y={pTop} width={W} height={H} fill="none" stroke="#333" strokeWidth={1} />
      <text x={right - 2} y={pTop + 14.4} fontSize={12.2} textAnchor="end" fill="#F21A1A">
        {'partial.cor = ' + spec.cor}
      </text>
      <text x={right - 2} y={pTop + 25.8} fontSize={12.2} textAnchor="end" fill="#F21A1A">
        {'p = ' + spec.p}
      </text>
      {/* y axis */}
      {exprMajor.map(v => (
        <g key={'yt' + v}>
          <line x1={stripLeft - 3} x2={stripLeft} y1={y(v)} y2={y(v)} stroke="#333" strokeWidth={1} />
          <text x={stripLeft - 4.5} y={y(v) + 3.8} fontSize={10.5} textAnchor="end" fill="#4D4D4D">{v}</text>
        </g>
      ))}
      {/* x axis */}
      {spec.xTicks.map(v => (
        <g key={'xt' + v}>
          <line x1={x(v)} x2={x(v)} y1={pBottom} y2={pBottom + 3} stroke="#333" strokeWidth={1} />
          <text x={x(v)} y={pBottom + 12.8} fontSize={10.5} textAnchor="middle" fill="#4D4D4D">{fmt(v)}</text>
        </g>
      ))}
    </g>
  );
}

export default function App() {
  return (
    <svg width={778} height={864} viewBox="0 0 778 864"
      style={{ position: 'absolute', left: 0, top: 0, display: 'block' }} fontFamily={FONT}>
      <rect width={778} height={864} fill="#fff" />
      <LollipopPanel />
      <text x={5} y={376} fontSize={22} fill="#231F20">B</text>
      {PANELS.map(p => <ScatterPanel key={p.title} spec={p} />)}
    </svg>
  );
}
